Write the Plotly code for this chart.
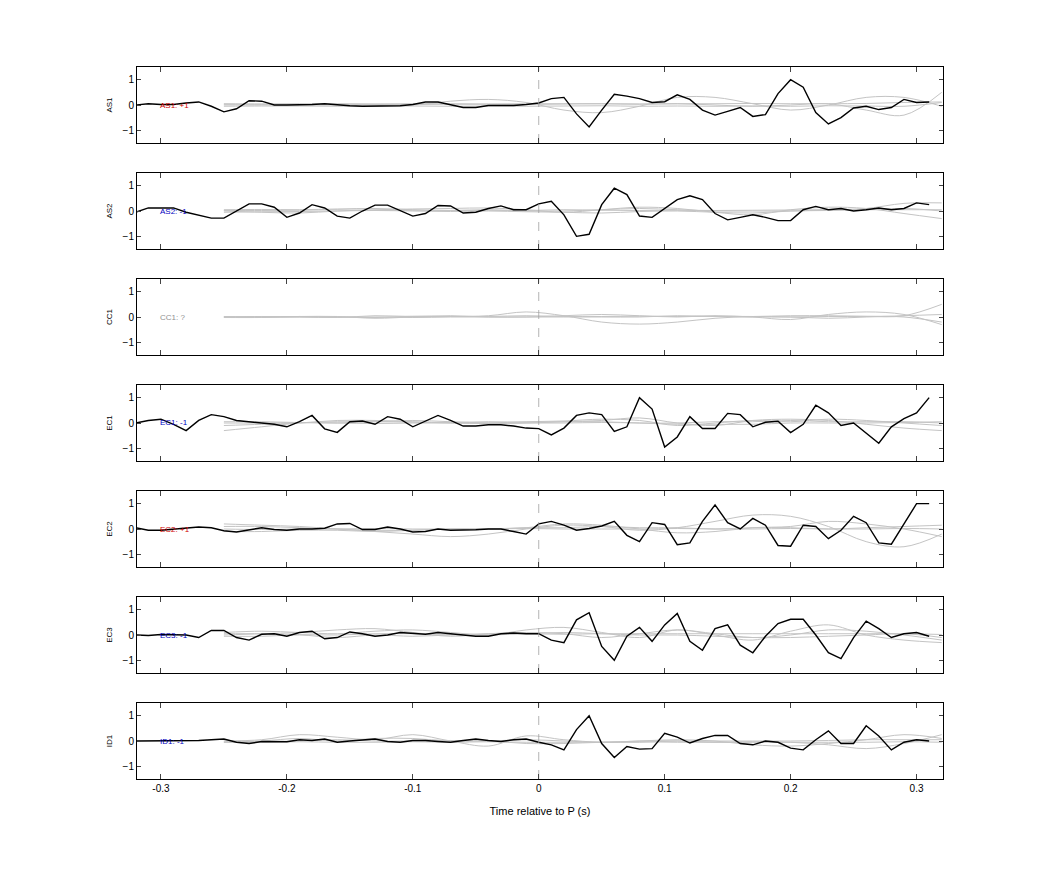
import numpy as np
import plotly.graph_objects as go
from plotly.subplots import make_subplots

stations = ["AS1", "AS2", "CC1", "EC1", "EC2", "EC3", "ID1"]
labels = ["AS1: +1", "AS2: -1", "CC1: ?", "EC1: -1", "EC2: +1", "EC3: -1", "ID1: -1"]
label_colors = ["#d00000", "#0000c0", "#909090", "#0000c0", "#d00000", "#0000c0", "#0000c0"]

t_black = [round(-0.32 + 0.01 * i, 2) for i in range(64)]
black = {
    "AS1": [0, 0.05, 0.02, 0.02, 0.08, 0.12, -0.05, -0.27, -0.15, 0.17, 0.15, 0.0, 0.0, 0.0, 0.02, 0.05,
            0.0, -0.03, -0.05, -0.05, -0.05, -0.03, 0.02, 0.12, 0.12, 0.02, -0.1, -0.1, -0.02, -0.02, -0.02, 0.02,
            0.08, 0.25, 0.3, -0.35, -0.87, -0.2, 0.42, 0.35, 0.25, 0.1, 0.13, 0.4, 0.22, -0.2, -0.4, -0.25,
            -0.1, -0.45, -0.38, 0.45, 1.0, 0.7, -0.3, -0.75, -0.5, -0.12, -0.05, -0.18, -0.1, 0.22, 0.1, 0.12],
    "AS2": [-0.05, 0.12, 0.12, 0.12, -0.05, -0.18, -0.28, -0.28, 0.0, 0.28, 0.28, 0.15, -0.25, -0.08, 0.25, 0.12,
            -0.2, -0.28, 0.0, 0.23, 0.23, 0.0, -0.2, -0.1, 0.22, 0.2, -0.08, -0.05, 0.1, 0.2, 0.05, 0.05,
            0.28, 0.38, -0.15, -1.0, -0.92, 0.25, 0.9, 0.65, -0.2, -0.25, 0.1, 0.45, 0.6, 0.45, -0.1, -0.35,
            -0.25, -0.15, -0.25, -0.38, -0.38, 0.05, 0.18, 0.05, 0.1, 0.0, 0.05, 0.12, 0.05, 0.1, 0.32, 0.25],
    "CC1": None,
    "EC1": [0.0, 0.1, 0.15, -0.05, -0.3, 0.1, 0.33, 0.25, 0.1, 0.05, 0.0, -0.05, -0.15, 0.05, 0.3, -0.23,
            -0.37, 0.05, 0.08, -0.05, 0.25, 0.15, -0.15, 0.07, 0.3, 0.1, -0.12, -0.12, -0.07, -0.07, -0.12, -0.2,
            -0.22, -0.47, -0.2, 0.3, 0.4, 0.33, -0.33, -0.15, 1.0, 0.55, -0.95, -0.55, 0.25, -0.22, -0.22, 0.38,
            0.33, -0.15, 0.03, 0.07, -0.38, -0.05, 0.7, 0.4, -0.1, 0.0, -0.4, -0.8, -0.15, 0.17, 0.4, 1.0],
    "EC2": [0.05, -0.05, -0.05, 0.0, 0.05, 0.08, 0.05, -0.07, -0.12, -0.03, 0.05, -0.02, -0.05, 0.0, 0.0, 0.03,
            0.2, 0.22, -0.02, -0.02, 0.08, 0.0, -0.12, -0.1, 0.0, -0.05, -0.05, -0.03, 0.0, 0.0, -0.1, -0.2,
            0.2, 0.3, 0.15, -0.05, 0.02, 0.12, 0.3, -0.25, -0.5, 0.25, 0.18, -0.62, -0.55, 0.3, 0.95, 0.25,
            0.0, 0.42, 0.15, -0.65, -0.68, 0.15, 0.1, -0.38, -0.05, 0.5, 0.25, -0.55, -0.6, 0.2, 1.0, 1.0],
    "EC3": [0.0, -0.02, 0.02, 0.0, 0.0, -0.1, 0.18, 0.18, -0.1, -0.2, 0.03, 0.05, -0.05, 0.1, 0.15, -0.15,
            -0.1, 0.12, 0.05, -0.05, 0.0, 0.1, 0.05, 0.03, 0.1, 0.05, 0.0, -0.05, -0.05, 0.05, 0.08, 0.05,
            0.05, -0.2, -0.3, 0.6, 0.88, -0.45, -1.0, -0.05, 0.3, -0.25, 0.4, 0.85, -0.25, -0.6, 0.25, 0.4,
            -0.4, -0.7, -0.05, 0.45, 0.62, 0.62, 0.0, -0.7, -0.93, -0.1, 0.55, 0.25, -0.1, 0.05, 0.1, -0.05],
    "ID1": [0, 0, 0, 0, 0, 0.02, 0.05, 0.08, -0.05, -0.1, -0.02, -0.02, -0.03, 0.05, 0.02, 0.08,
            -0.05, 0.0, 0.05, 0.08, -0.02, -0.05, 0.02, 0.02, -0.02, -0.05, 0.02, 0.08, 0.02, -0.02, 0.05, 0.08,
            -0.05, -0.15, -0.35, 0.45, 1.0, -0.1, -0.65, -0.22, -0.32, -0.3, 0.3, 0.15, -0.08, 0.1, 0.22, 0.22,
            -0.1, -0.15, 0.0, -0.05, -0.28, -0.35, 0.05, 0.4, -0.1, -0.1, 0.6, 0.2, -0.35, -0.05, 0.05, 0.0],
}

t_gray = [round(-0.25 + 0.03 * i, 2) for i in range(20)]
gray = {
    "AS1": [
        [0, 0, 0, 0, 0, 0, 0.15, 0.22, 0.1, -0.2, -0.3, -0.05, 0.3, 0.3, 0.05, -0.2, 0.0, 0.3, 0.3, -0.05],
        [0.03, 0.03, 0.02, 0.03, 0.03, 0.02, 0.03, 0.03, 0.02, 0.04, 0.05, 0.03, 0.05, 0.0, -0.05, 0.0, 0.05, -0.2, -0.4, 0.5],
        [-0.05, -0.04, -0.04, -0.05, -0.04, -0.04, -0.05, -0.04, -0.05, -0.04, -0.03, -0.05, -0.04, -0.05, -0.04, -0.05, -0.03, -0.04, -0.05, 0.1],
        [0.05, 0.04, 0.05, 0.05, 0.04, 0.05, 0.05, 0.04, 0.05, 0.05, 0.05, 0.04, 0.05, 0.05, 0.06, 0.05, 0.05, 0.06, 0.1, 0.12],
    ],
    "AS2": [
        [0.0, -0.05, -0.08, 0.0, 0.05, 0.08, 0.1, 0.12, 0.05, -0.05, 0.05, 0.15, 0.1, -0.05, -0.15, 0.05, 0.15, 0.1, -0.1, -0.3],
        [0.05, 0.06, 0.05, 0.08, 0.1, 0.05, 0.02, 0.05, 0.0, 0.0, 0.05, 0.1, 0.05, 0.0, 0.0, 0.0, 0.05, 0.1, 0.3, 0.32],
        [-0.05, -0.03, -0.02, 0.0, 0.02, 0.0, -0.02, 0.0, -0.03, -0.05, -0.08, -0.02, 0.0, -0.05, -0.08, 0.0, 0.02, 0.05, 0.1, 0.0],
        [0.02, 0.02, 0.03, 0.05, 0.02, 0.03, 0.02, 0.03, 0.02, 0.05, 0.03, 0.02, 0.03, 0.02, 0.03, 0.04, 0.05, 0.05, 0.05, 0.05],
    ],
    "CC1": [
        [0, 0.0, 0.02, 0.0, -0.02, 0.03, 0.02, 0.05, 0.2, 0.05, -0.2, -0.28, -0.2, -0.05, 0.02, 0.0, 0.02, 0.02, 0.05, 0.5],
        [0.0, 0.02, 0.0, -0.02, 0.05, 0.02, 0.05, 0.0, 0.0, 0.05, 0.1, 0.05, 0.0, 0.05, 0.0, -0.1, 0.1, 0.2, 0.1, -0.3],
        [0.02, 0.0, 0.02, 0.02, -0.05, 0.0, 0.02, 0.02, 0.05, 0.02, 0.02, 0.03, 0.02, 0.03, 0.02, 0.05, 0.05, 0.03, 0.0, -0.2],
        [-0.02, -0.02, 0.0, 0.0, 0.0, -0.02, 0.0, 0.0, 0.0, 0.0, 0.0, 0.0, 0.05, 0.02, 0.0, 0.0, -0.05, 0.0, 0.05, 0.1],
    ],
    "EC1": [
        [-0.3, -0.15, 0.0, 0.05, 0.05, 0.1, 0.05, 0.0, 0.0, 0.05, 0.1, 0.2, 0.0, -0.1, 0.1, 0.15, 0.1, -0.05, -0.2, -0.3],
        [-0.1, -0.05, 0.0, 0.1, 0.1, 0.05, 0.0, 0.0, 0.05, 0.08, 0.15, 0.1, -0.1, 0.0, 0.1, 0.05, 0.15, 0.1, 0.0, -0.1],
        [0.05, 0.05, 0.02, 0.0, 0.05, 0.03, 0.02, 0.05, 0.03, 0.05, 0.05, 0.0, 0.0, 0.05, 0.05, 0.1, 0.05, 0.05, 0.05, 0.0],
        [0.0, 0.0, 0.02, 0.0, -0.02, 0.0, 0.0, -0.02, 0.0, 0.0, 0.02, 0.0, -0.05, -0.05, -0.05, 0.0, 0.0, 0.0, 0.02, 0.05],
    ],
    "EC2": [
        [0.2, 0.15, 0.1, 0.0, -0.1, -0.2, -0.3, -0.2, 0.0, 0.15, 0.1, -0.05, 0.05, 0.3, 0.55, 0.5, 0.1, -0.5, -0.7, -0.2],
        [0.1, 0.1, 0.05, 0.0, -0.05, -0.05, 0.0, 0.0, 0.05, 0.2, 0.15, 0.0, -0.15, -0.1, 0.05, 0.1, 0.3, 0.2, 0.0, -0.3],
        [-0.1, -0.1, -0.05, -0.05, -0.1, -0.05, 0.0, 0.0, 0.05, 0.05, 0.1, 0.05, 0.05, 0.0, 0.05, 0.05, 0.0, 0.05, 0.1, 0.15],
        [0.0, -0.02, 0.0, 0.0, 0.02, 0.0, 0.0, 0.0, 0.02, 0.0, 0.0, 0.0, 0.02, 0.0, 0.0, 0.02, 0.0, 0.0, 0.02, 0.0],
    ],
    "EC3": [
        [0.1, 0.15, 0.1, 0.05, 0.15, 0.2, 0.1, 0.0, 0.2, 0.3, 0.1, -0.1, 0.2, 0.0, -0.2, 0.15, 0.4, 0.0, -0.2, -0.3],
        [0.0, 0.05, 0.1, 0.2, 0.25, 0.1, -0.05, 0.05, 0.1, 0.05, -0.1, 0.05, 0.2, 0.05, -0.1, 0.0, 0.2, 0.15, 0.0, -0.2],
        [-0.05, -0.05, 0.0, -0.1, 0.0, -0.05, 0.0, 0.0, 0.05, 0.1, 0.05, 0.0, 0.0, -0.05, -0.1, -0.1, -0.05, 0.0, 0.05, -0.1],
        [0.05, 0.05, 0.02, 0.0, 0.05, 0.05, 0.02, 0.05, 0.05, 0.03, 0.05, 0.05, 0.05, 0.05, 0.05, 0.05, 0.05, 0.05, 0.05, 0.02],
    ],
    "ID1": [
        [0.0, 0.05, 0.25, 0.15, 0.05, 0.25, 0.0, -0.2, 0.2, 0.05, -0.05, 0.0, 0.05, 0.0, -0.15, -0.2, -0.1, 0.05, 0.25, 0.1],
        [-0.05, 0.0, 0.1, 0.0, 0.1, 0.1, 0.0, 0.0, -0.1, -0.1, -0.05, -0.05, 0.0, -0.05, -0.05, -0.05, -0.15, -0.3, -0.1, 0.25],
        [0.0, -0.02, 0.0, 0.05, 0.0, 0.0, 0.02, 0.0, 0.05, 0.0, -0.05, 0.0, 0.0, 0.0, 0.0, 0.0, 0.02, 0.05, 0.05, 0.05],
        [-0.05, -0.05, -0.03, -0.05, -0.05, -0.03, -0.05, -0.03, -0.05, -0.05, -0.05, -0.03, -0.05, -0.05, -0.03, -0.05, -0.05, -0.05, -0.03, -0.05],
    ],
}

x_ticks = [-0.3, -0.2, -0.1, 0, 0.1, 0.2, 0.3]
x_tick_text = ["-0.3", "-0.2", "-0.1", "0", "0.1", "0.2", "0.3"]
y_ticks = [-1, 0, 1]

n = len(stations)
fig = make_subplots(rows=n, cols=1, shared_xaxes=True, vertical_spacing=30 / 712)
FONT = "Liberation Sans, Arial, sans-serif"

for i, st in enumerate(stations):
    r = i + 1
    for g in gray[st]:
        fig.add_trace(go.Scatter(x=t_gray, y=g, mode="lines", line=dict(color="#c4c4c4", width=1, shape="spline"),
                                 showlegend=False, hoverinfo="skip"), row=r, col=1)
    if black[st] is not None:
        fig.add_trace(go.Scatter(x=t_black, y=black[st], mode="lines", line=dict(color="black", width=1.4),
                                 showlegend=False), row=r, col=1)
    fig.add_trace(go.Scatter(x=[0, 0], y=[-1.5, 1.5], mode="lines",
                             line=dict(color="#a0a0a0", width=0.8, dash="dash"),
                             showlegend=False, hoverinfo="skip"), row=r, col=1)
    fig.add_annotation(x=-0.302, y=0, text=labels[i], showarrow=False, xanchor="left",
                       font=dict(color=label_colors[i], size=8, family=FONT), row=r, col=1)
    fig.update_yaxes(row=r, col=1, range=[-1.5, 1.5], tickvals=y_ticks, ticks="inside", ticklen=4,
                     showgrid=False, zeroline=False, showline=True, linecolor="black", linewidth=1, mirror="ticks",
                     title=dict(text=st, font=dict(size=8, family=FONT), standoff=8),
                     tickfont=dict(size=10, family=FONT))
    fig.update_xaxes(row=r, col=1, range=[-0.319, 0.321], tickvals=x_ticks, ticktext=x_tick_text,
                     ticks="inside", ticklen=5, showgrid=False, zeroline=False, showline=True,
                     linecolor="black", linewidth=1, mirror="ticks", tickfont=dict(size=10, family=FONT),
                     showticklabels=(r == n))

fig.update_xaxes(row=n, col=1, title=dict(text="Time relative to P (s)", font=dict(size=11, family=FONT), standoff=14))
fig.update_layout(width=1042, height=875, margin=dict(l=129, r=107, t=59, b=104),
                  plot_bgcolor="white", paper_bgcolor="white", showlegend=False,
                  font=dict(family=FONT, color="black"))
fig.write_html("out.html")
